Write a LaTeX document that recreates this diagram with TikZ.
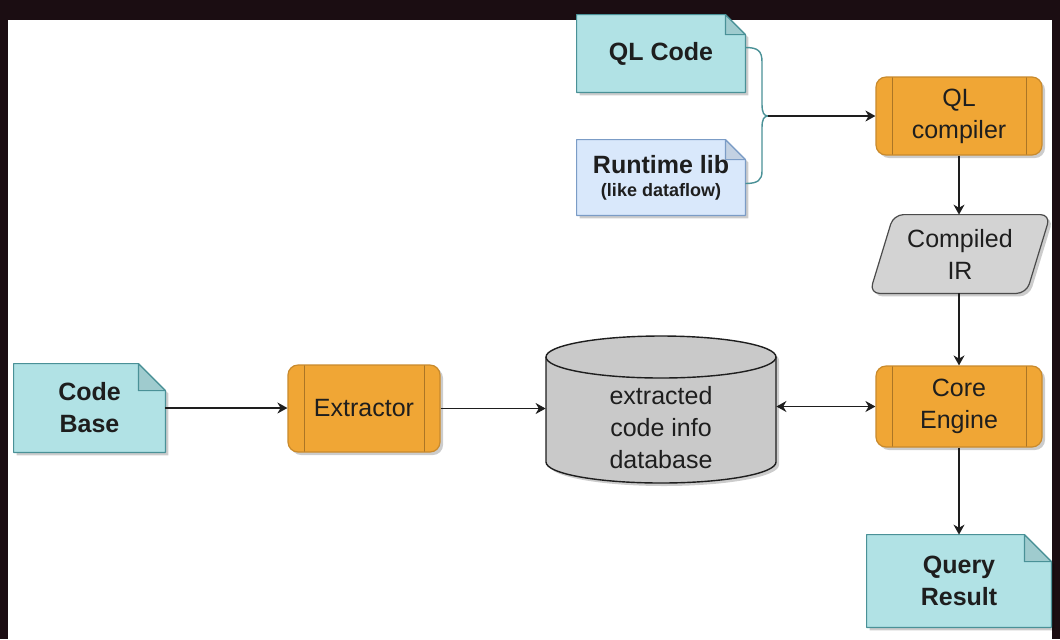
\documentclass[tikz,border=0pt]{standalone}
\usepackage{fontspec}
\setmainfont{Liberation Sans}
\usetikzlibrary{arrows.meta,shadows,calc}
\pgfdeclarelayer{background}
\pgfsetlayers{background,main}

\definecolor{frame}{HTML}{1B0D12}
\definecolor{tealfill}{HTML}{B1E2E5}
\definecolor{tealline}{HTML}{4A9197}
\definecolor{bluefill}{HTML}{D9E8FB}
\definecolor{blueline}{HTML}{7B9CC6}
\definecolor{orangefill}{HTML}{F0A635}
\definecolor{orangeline}{HTML}{C98A2C}
\definecolor{grayfill}{HTML}{C9C9C9}
\definecolor{irfill}{HTML}{D3D3D3}
\definecolor{ink}{HTML}{1E1E1E}

\tikzset{
  softshadow/.style={drop shadow={shadow xshift=1.5pt, shadow yshift=-1.5pt, opacity=0.2, fill=black}},
  lbl/.style={font=\fontsize{12.5}{16}\selectfont, text=ink, align=center, inner sep=0pt},
  notelbl/.style={lbl, font=\fontsize{12.5}{16}\selectfont\bfseries},
  procbox/.style={lbl, draw=orangeline, fill=orangefill, line width=0.6pt,
    rounded corners=5pt, softshadow,
    path picture={\draw[orangeline!85!black, line width=0.5pt]
      ([xshift=8pt]path picture bounding box.north west) -- ([xshift=8pt]path picture bounding box.south west)
      ([xshift=-8pt]path picture bounding box.north east) -- ([xshift=-8pt]path picture bounding box.south east);}},
  tip/.tip={Stealth[length=5pt,width=5.5pt,inset=1.6pt]},
  arr/.style={draw=ink, line width=0.7pt, -tip},
  dblarr/.style={draw=ink, line width=0.7pt, tip-tip},
}

% note shape with a folded top-right corner, drawn behind a named node
\newcommand\notedeco[4]{%
  \begin{pgfonlayer}{background}
    \path[fill=#3, draw=#4, line width=0.6pt, line join=round, softshadow]
      (#1.north west) -- ([xshift=-#2]#1.north east) -- ([yshift=-#2]#1.north east)
      -- (#1.south east) -- (#1.south west) -- cycle;
    \path[fill=#3!90!black, draw=#4, line width=0.6pt, line join=round]
      ([xshift=-#2]#1.north east) -- ([xshift=-#2,yshift=-#2]#1.north east)
      -- ([yshift=-#2]#1.north east) -- cycle;
  \end{pgfonlayer}}

\begin{document}
\begin{tikzpicture}[x=0.5pt, y=-0.5pt]
\useasboundingbox (0,0) rectangle (1060,639);

\begin{pgfonlayer}{background}
  \fill[frame] (0,0) rectangle (1060,639);
  \fill[white] (8,20) rectangle (1052,639);
\end{pgfonlayer}

% inputs
\node[notelbl, minimum width=84pt, minimum height=38.5pt] (qlcode) at (661,53.5) {QL Code};
\node[notelbl, minimum width=84pt, minimum height=37.5pt] (rtlib) at (661,177.5)
  {Runtime lib\\[-4.5pt]{\fontsize{9}{11}\selectfont (like dataflow)}};
\node[notelbl, minimum width=75.5pt, minimum height=44pt] (codebase) at (89.5,408) {Code\\Base};
\node[notelbl, minimum width=92pt, minimum height=46pt] (result) at (959,581) {Query\\Result};

\notedeco{qlcode}{10pt}{tealfill}{tealline}
\notedeco{rtlib}{10pt}{bluefill}{blueline}
\notedeco{codebase}{13.5pt}{tealfill}{tealline}
\notedeco{result}{13.5pt}{tealfill}{tealline}

% processing steps
\node[procbox, minimum width=83pt, minimum height=39pt] (qlcomp) at (959,116) {QL\\compiler};
\node[procbox, minimum width=83pt, minimum height=40.5pt] (core) at (959,406.5) {Core\\Engine};
\node[procbox, minimum width=76pt, minimum height=43.5pt] (extract) at (364,408.5) {Extractor};

% compiled IR (parallelogram)
\node[lbl, minimum width=90pt, minimum height=39pt] (ir) at (960,254) {Compiled\\IR};
\begin{pgfonlayer}{background}
  \path[fill=irfill, draw=ink!80, line width=0.6pt, rounded corners=5pt, softshadow]
    ([xshift=12pt]ir.north west) -- (ir.north east) -- ([xshift=-12pt]ir.south east)
    -- (ir.south west) -- cycle;
\end{pgfonlayer}

% database cylinder
\node[lbl, minimum width=115pt, minimum height=63pt] (db) at (661,428) {extracted\\code info\\database};
\begin{pgfonlayer}{background}
  \path[fill=grayfill, draw=ink, line width=0.7pt, softshadow]
    (546,357) -- (546,462)
    arc[start angle=180, end angle=360, x radius=57.5pt, y radius=10.5pt]
    -- (776,357)
    arc[start angle=0, end angle=180, x radius=57.5pt, y radius=10.5pt] -- cycle;
  \draw[ink, line width=0.7pt] (546,357)
    arc[start angle=180, end angle=360, x radius=57.5pt, y radius=10.5pt];
\end{pgfonlayer}

% curly bracket joining the query sources
\coordinate (brtip) at (768,116);
\draw[tealline, line width=0.7pt]
  ($(qlcode.east)+(0,-6)$) .. controls (758,47.5) and (762,51) .. (762,62) -- (762,104)
  .. controls (762,113) and (764,116) .. (brtip)
  .. controls (764,116) and (762,119) .. (762,128) -- (762,171)
  .. controls (762,180) and (758,183.5) .. ($(rtlib.east)+(0,6)$);

% connectors
\draw[arr] (brtip) -- (brtip -| qlcomp.west);
\draw[arr] (qlcomp.south) -- (qlcomp.south |- ir.north);
\draw[arr] (core.north |- ir.south) -- (core.north);
\draw[arr] (core.south) -- (core.south |- result.north);
\draw[arr] (codebase.east) -- (codebase.east -| extract.west);
\draw[arr] (extract.east) -- (extract.east -| db.west);
\draw[dblarr] (core.west -| db.east) -- (core.west);

\end{tikzpicture}
\end{document}
